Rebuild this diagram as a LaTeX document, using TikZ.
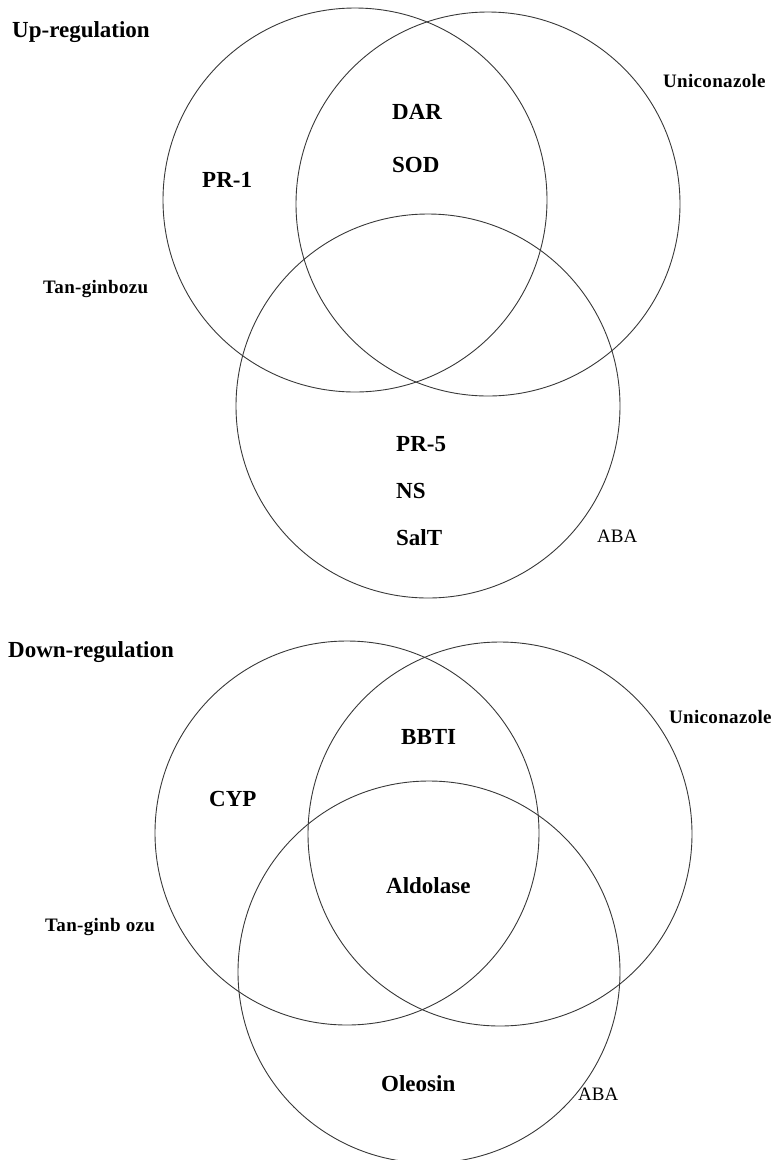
\documentclass[tikz,border=0pt]{standalone}
\usepackage{fontspec}
\setmainfont{Liberation Serif}
\begin{document}
\begin{tikzpicture}[x=1pt,y=-1pt,
  venn/.style={draw=black!78,line width=0.9pt},
  title/.style={anchor=base west,inner sep=0pt,font=\fontsize{23}{27}\selectfont\bfseries},
  gene/.style={anchor=base west,inner sep=0pt,font=\fontsize{23}{27}\selectfont\bfseries},
  setlbl/.style={anchor=base west,inner sep=0pt,font=\fontsize{19}{22}\selectfont\bfseries\addfontfeatures{LetterSpace=1.7}},
  abalbl/.style={anchor=base west,inner sep=0pt,font=\fontsize{19}{22}\selectfont}]
\useasboundingbox (0,0) rectangle (777,1160);
% ---------- Up-regulation ----------
\draw[venn] (355,200) circle[radius=192];
\draw[venn] (488,204) circle[radius=192];
\draw[venn] (428,406) circle[radius=192];
\node[title] (up) at (12,37) {Up-regulation};
\node[setlbl] (tg1) at (43,293) {Tan-ginbozu};
\node[setlbl] (un1) at (663,87) {Uniconazole};
\node[abalbl] (aba1) at (597,542) {ABA};
\node[gene] (pr1) at (202,187) {PR-1};
\node[gene] (dar) at (392,119) {DAR};
\node[gene] (sod) at (392,172) {SOD};
\node[gene] (pr5) at (396,451) {PR-5};
\node[gene] (ns) at (396,498) {NS};
\node[gene] (salt) at (396,545) {SalT};
% ---------- Down-regulation ----------
\draw[venn] (347,833) circle[radius=192];
\draw[venn] (500,834) circle[radius=192];
\draw[venn] (429,972) circle[radius=191];
\node[title] (down) at (8,657) {Down-regulation};
\node[setlbl] (tg2) at (45,931) {Tan-ginb ozu};
\node[setlbl] (un2) at (669,723) {Uniconazole};
\node[abalbl] (aba2) at (578,1100) {ABA};
\node[gene] (cyp) at (209,806) {CYP};
\node[gene] (bbti) at (401,744) {BBTI};
\node[gene] (aldo) at (386,893) {Aldolase};
\node[gene] (oleo) at (381,1091) {Oleosin};
\end{tikzpicture}
\end{document}
